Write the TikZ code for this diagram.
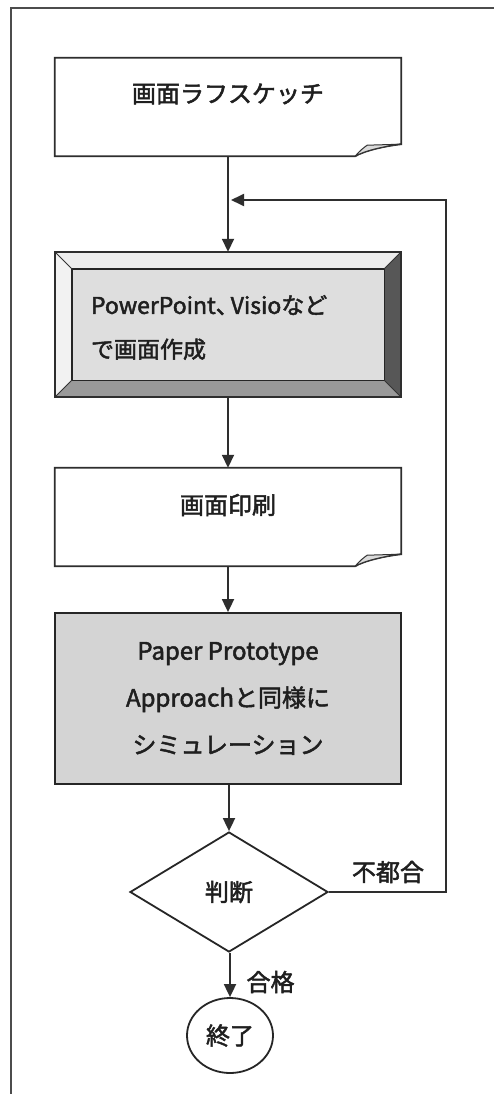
\documentclass[tikz,border=0pt]{standalone}
\usepackage{fontspec}
\setmainfont{Noto Sans CJK JP}[FakeBold=2]
\usetikzlibrary{arrows.meta,shapes.geometric,calc}
\newcommand\drawdocshape[1]{%
  \draw[ln,fill=white] (#1.north west) -- (#1.north east) -- ([yshift=12pt]#1.south east)
    .. controls +(-18pt,-2pt) and +(8pt,5pt) .. ([xshift=-46pt]#1.south east) -- (#1.south west) -- cycle;
  \draw[line width=1pt,draw=black!80,fill=black!14] ([xshift=-46pt]#1.south east)
    .. controls +(4pt,5pt) and +(-3pt,-2pt) .. ([xshift=-34pt,yshift=11pt]#1.south east)
    -- ([yshift=12pt]#1.south east)
    .. controls +(-18pt,-2pt) and +(8pt,5pt) .. ([xshift=-46pt]#1.south east);
}
\begin{document}
\begin{tikzpicture}[x=1pt,y=1pt,
  ln/.style={draw=black!82,line width=1.8pt},
  arr/.style={draw=black!82,line width=1.8pt,-{Triangle[length=13pt,width=12pt]}},
  txt/.style={font=\fontsize{24}{28}\selectfont,text=black!88},
  box/.style={txt,inner sep=0pt,minimum width=346pt}]
\useasboundingbox (0,0) rectangle (494,-1094);
\fill[white] (0,0) rectangle (494,-1094);
% frame
\draw[draw=black!70,line width=1.4pt] (11,-1094) -- (11,-8) -- (494,-8);

% box 1
\node[box,minimum height=98pt] (b1) at (228,-107) {};
\drawdocshape{b1}
\node[txt] (t1) at ($(b1.center)+(0,13pt)$) {画面ラフスケッチ};

% box 2 (bevel)
\node[box,minimum height=145pt] (b2) at (228,-324.5) {};
\fill[black!7] (b2.north west) -- (b2.north east) -- ([shift={(-17pt,-17pt)}]b2.north east) -- ([shift={(17pt,-17pt)}]b2.north west) -- cycle;
\fill[black!5] (b2.north west) -- (b2.south west) -- ([shift={(17pt,17pt)}]b2.south west) -- ([shift={(17pt,-17pt)}]b2.north west) -- cycle;
\fill[black!66] (b2.north east) -- (b2.south east) -- ([shift={(-17pt,17pt)}]b2.south east) -- ([shift={(-17pt,-17pt)}]b2.north east) -- cycle;
\fill[black!40] (b2.south west) -- (b2.south east) -- ([shift={(-17pt,17pt)}]b2.south east) -- ([shift={(17pt,17pt)}]b2.south west) -- cycle;
\draw[line width=1.4pt,draw=black!85,fill=black!13] ([shift={(17pt,-17pt)}]b2.north west) rectangle ([shift={(-17pt,17pt)}]b2.south east);
\draw[line width=1pt,draw=black!80] (b2.north west) -- ([shift={(17pt,-17pt)}]b2.north west)
  (b2.north east) -- ([shift={(-17pt,-17pt)}]b2.north east)
  (b2.south west) -- ([shift={(17pt,17pt)}]b2.south west)
  (b2.south east) -- ([shift={(-17pt,17pt)}]b2.south east);
\draw[ln,line width=2pt] (b2.north west) rectangle (b2.south east);
\node[txt,font=\fontsize{23}{44}\selectfont,align=left,text width=274pt,inner sep=0pt] (t2) at ($(b2.center)+(0,-3pt)$) {PowerPoint、\kern-8pt Visioなど\\で画面作成};

% box 3
\node[box,minimum height=98pt] (b3) at (228,-517) {};
\drawdocshape{b3}
\node[txt] (t3) at ($(b3.center)+(0,12pt)$) {画面印刷};

% box 4
\node[box,minimum height=171pt,draw=black!85,line width=1.8pt,fill=black!17,
      align=center,font=\fontsize{24}{47}\selectfont] (b4) at (228,-698.5)
      {Paper Prototype\\Approachと同様に\\シミュレーション};

% decision
\node[txt,diamond,draw=black!85,line width=1.8pt,fill=white,minimum width=198pt,minimum height=120pt,inner sep=0pt] (d) at (229,-892) {判断};

% end
\node[txt,ellipse,draw=black!85,line width=1.8pt,minimum width=86pt,minimum height=75pt,inner sep=0pt] (e) at (230,-1035.5) {終了};

% connectors
\coordinate (j) at (231,-200);
\coordinate (m) at ($(b1.south)+(0,-44pt)$);
\draw[ln] (b1.south) -- (m);
\draw[arr] (m) -- (b2.north);
\draw[arr] (b2.south) -- (b2.south |- b3.north);
\draw[arr] (b3.south) -- (b3.south |- b4.north);
\draw[arr] (d.north |- b4.south) -- (d.north);
\draw[arr] (e.north |- d.south) -- (e.north);
\draw[arr] (d.east) -- ++(117pt,0) |- (j);

% labels
\node[txt] (ng) at (388,-872) {不都合};
\node[txt,anchor=west] (ok) at (243,-982) {合格};
\end{tikzpicture}
\end{document}
